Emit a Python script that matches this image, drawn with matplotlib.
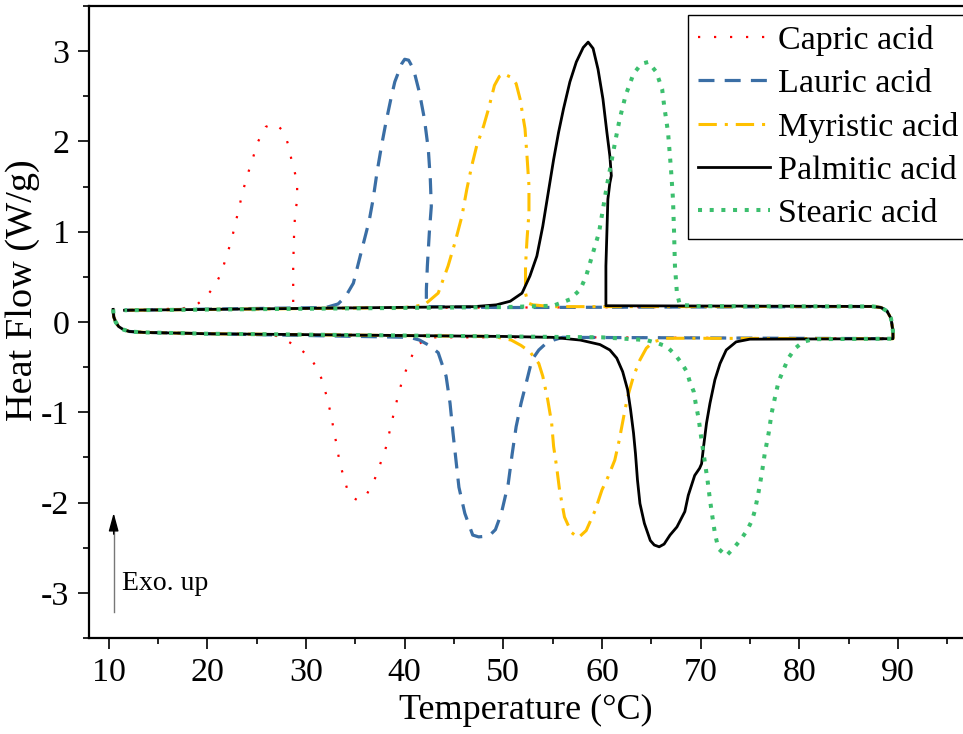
import matplotlib
matplotlib.use("Agg")
import matplotlib.pyplot as plt
from matplotlib.ticker import MultipleLocator
import numpy as np

plt.rcParams['font.family'] = ['Liberation Serif', 'DejaVu Serif']
plt.rcParams['axes.unicode_minus'] = False
plt.rcParams['mathtext.fontset'] = 'stix'

# ---------------- data ----------------
labels = ["Capric acid", "Lauric acid", "Myristic acid", "Palmitic acid", "Stearic acid"]

# shared loop ends
left_curl_T = [10.45, 10.5, 10.7, 11.0, 11.5, 12.1, 13.5, 20.0]
left_curl_HF = [0.14, 0.06, 0.0, -0.05, -0.085, -0.105, -0.115, -0.13]
right_turn_T = [89.5, 89.5, 89.3, 88.9, 88.3, 87.5]
right_turn_HF = [-0.185, -0.10, 0.04, 0.12, 0.16, 0.172]
cool_end_T = [11.6]
cool_end_HF = [0.13]

# Capric acid
capric_heat_T = [26.5, 27.3, 28.4, 29.4, 30.4, 31.1, 31.7, 32.1, 32.5, 32.8, 33.1, 33.4, 33.8, 34.2, 34.7, 35.3,
                 35.8, 36.2, 36.9, 37.5, 38.1, 38.5, 38.9, 39.3, 39.8, 40.4, 41.0, 41.4, 42.0, 42.6, 60.0]
capric_heat_HF = [-0.145, -0.16, -0.23, -0.30, -0.39, -0.51, -0.66, -0.83, -1.01, -1.19, -1.36, -1.55, -1.71, -1.86,
                  -1.94, -1.98, -1.95, -1.90, -1.76, -1.58, -1.39, -1.20, -1.01, -0.83, -0.63, -0.46, -0.31, -0.25,
                  -0.20, -0.17, -0.17]
capric_cool_T = [50.0, 29.5, 28.7, 28.7, 28.7, 28.8, 28.9, 29.1, 29.1, 28.9, 28.5, 28.2, 27.8, 27.0, 26.5, 25.9,
                 25.1, 24.6, 24.1, 23.6, 23.2, 22.8, 22.4, 21.4, 20.75, 19.8, 18.9, 17.5]
capric_cool_HF = [0.16, 0.155, 0.16, 0.25, 0.63, 1.01, 1.20, 1.35, 1.53, 1.64, 1.81, 1.96, 2.10, 2.19, 2.19, 2.16,
                  1.99, 1.81, 1.64, 1.45, 1.26, 1.07, 0.89, 0.54, 0.40, 0.27, 0.19, 0.15]

# Lauric acid
lauric_heat_T = [40.5, 41.5, 42.5, 43.4, 44.2, 44.6, 44.9, 45.2, 45.5, 46.1, 46.9, 47.5, 48.55, 49.2, 49.8, 50.5,
                 50.9, 51.3, 51.8, 52.4, 52.9, 53.6, 54.3, 55.1, 56.0]
lauric_heat_HF = [-0.17, -0.20, -0.26, -0.34, -0.60, -0.90, -1.23, -1.53, -1.83, -2.12, -2.36, -2.38, -2.37, -2.30,
                  -2.12, -1.79, -1.46, -1.16, -0.90, -0.64, -0.42, -0.31, -0.24, -0.20, -0.17]
lauric_cool_T = [50.0, 42.2, 42.2, 42.3, 42.5, 42.7, 42.6, 42.4, 42.0, 41.5, 40.9, 40.4, 40.0, 39.7, 39.0, 38.6,
                 38.1, 37.65, 37.2, 36.8, 36.4, 35.7, 34.8, 34.0, 33.25, 32.0]
lauric_cool_HF = [0.16, 0.17, 0.36, 0.62, 0.99, 1.28, 1.58, 1.91, 2.25, 2.54, 2.80, 2.90, 2.91, 2.86, 2.66, 2.47,
                  2.21, 1.95, 1.66, 1.36, 1.12, 0.82, 0.43, 0.28, 0.20, 0.16]

# Myristic acid
myristic_heat_T = [49.0, 50.8, 51.8, 52.7, 53.6, 54.0, 54.5, 54.9, 55.1, 55.4, 55.7, 56.2, 56.9, 57.6, 58.4, 59.3,
                   60.0, 60.6, 61.3, 61.75, 62.2, 62.6, 63.2, 63.85, 64.5, 65.2, 66.5]
myristic_heat_HF = [-0.16, -0.20, -0.26, -0.33, -0.46, -0.60, -0.86, -1.12, -1.38, -1.60, -1.86, -2.16, -2.33,
                    -2.39, -2.31, -2.09, -1.86, -1.72, -1.53, -1.31, -1.05, -0.83, -0.60, -0.42, -0.29, -0.22,
                    -0.18]
myristic_cool_T = [55.0, 53.0, 52.5, 52.25, 52.25, 52.4, 52.6, 52.6, 52.4, 52.2, 51.7, 51.3, 50.8, 50.0, 49.6,
                   49.1, 48.5, 48.0, 47.3, 46.8, 46.3, 45.8, 45.1, 44.4, 43.4, 42.0, 40.0]
myristic_cool_HF = [0.17, 0.19, 0.21, 0.32, 0.62, 0.91, 1.21, 1.51, 1.84, 2.14, 2.47, 2.64, 2.71, 2.75, 2.72,
                    2.62, 2.36, 2.17, 1.95, 1.73, 1.47, 1.17, 0.88, 0.62, 0.32, 0.19, 0.16]

# Palmitic acid
palmitic_heat_T = [50.0, 55.0, 57.8, 59.8, 60.8, 61.5, 62.1, 62.6, 62.9, 63.2, 63.4, 63.6, 63.85, 64.3, 64.9, 65.3,
                   65.8, 66.3, 66.9, 67.6, 68.4, 68.75, 69.4, 69.9, 70.1, 70.3, 70.6, 70.95, 71.45, 71.97, 72.6,
                   73.6, 75.0]
palmitic_heat_HF = [-0.16, -0.17, -0.20, -0.25, -0.31, -0.40, -0.55, -0.75, -0.97, -1.23, -1.46, -1.75, -2.01,
                    -2.23, -2.42, -2.47, -2.49, -2.46, -2.36, -2.27, -2.10, -1.92, -1.70, -1.62, -1.57, -1.38,
                    -1.12, -0.90, -0.64, -0.46, -0.31, -0.22, -0.19]
palmitic_cool_T = [60.4, 60.4, 60.5, 60.6, 60.8, 60.95, 60.8, 60.5, 60.1, 59.6, 59.1, 58.6, 58.1, 57.4, 56.75,
                   56.1, 55.6, 55.1, 54.55, 54.0, 53.4, 52.7, 51.9, 50.7, 49.3, 47.0]
palmitic_cool_HF = [0.18, 0.62, 0.99, 1.36, 1.54, 1.62, 1.84, 2.10, 2.47, 2.80, 3.03, 3.10, 3.04, 2.88, 2.66,
                    2.36, 2.10, 1.80, 1.43, 1.06, 0.73, 0.51, 0.32, 0.23, 0.19, 0.17]

# Stearic acid
stearic_heat_T = [60.0, 64.5, 65.5, 66.55, 67.4, 68.1, 68.6, 68.9, 69.3, 69.5, 69.8, 70.1, 70.4, 70.7, 70.95, 71.2,
                  71.45, 71.8, 72.6, 73.3, 74.0, 74.7, 75.2, 75.5, 75.85, 76.2, 76.5, 76.9, 77.2, 77.55, 77.9,
                  78.4, 78.9, 79.6, 80.4, 81.4]
stearic_heat_HF = [-0.17, -0.20, -0.23, -0.27, -0.36, -0.46, -0.55, -0.66, -0.77, -0.90, -1.07, -1.31, -1.53,
                   -1.75, -1.97, -2.16, -2.34, -2.51, -2.59, -2.51, -2.42, -2.31, -2.20, -2.09, -1.90, -1.68,
                   -1.46, -1.23, -1.01, -0.83, -0.66, -0.53, -0.40, -0.29, -0.22, -0.19]
stearic_cool_T = [70.0, 67.9, 67.6, 67.4, 67.3, 67.2, 67.0, 66.7, 66.3, 66.1, 65.5, 64.7, 64.0, 63.2, 62.4, 61.8,
                  61.4, 60.95, 60.5, 60.1, 59.7, 59.1, 58.4, 57.8, 56.75, 55.05, 50.0]
stearic_cool_HF = [0.175, 0.19, 0.32, 0.62, 1.03, 1.36, 1.69, 2.10, 2.40, 2.58, 2.77, 2.88, 2.86, 2.75, 2.51,
                   2.25, 2.03, 1.77, 1.51, 1.25, 0.99, 0.77, 0.51, 0.36, 0.25, 0.18, 0.165]

heat_T = [capric_heat_T, lauric_heat_T, myristic_heat_T, palmitic_heat_T, stearic_heat_T]
heat_HF = [capric_heat_HF, lauric_heat_HF, myristic_heat_HF, palmitic_heat_HF, stearic_heat_HF]
cool_T = [capric_cool_T, lauric_cool_T, myristic_cool_T, palmitic_cool_T, stearic_cool_T]
cool_HF = [capric_cool_HF, lauric_cool_HF, myristic_cool_HF, palmitic_cool_HF, stearic_cool_HF]

colors = ["#ff0000", "#3a6ea5", "#ffc000", "#000000", "#3cbf6e"]
styles = [dict(lw=1.6, dashes=(1, 6.2), dash_capstyle='butt'),
          dict(lw=2.3, dashes=(5.0, 3.2), dash_capstyle='butt'),
          dict(lw=2.2, dashes=(6.0, 2.6, 1.0, 2.6), dash_capstyle='butt'),
          dict(lw=2.0, ls='-'),
          dict(lw=2.9, dashes=(1.0, 1.9), dash_capstyle='butt')]

fig = plt.figure(figsize=(9.63, 7.34), dpi=100)
ax = fig.add_axes([89 / 963, 96 / 734, 1 - 89 / 963, (638 - 6) / 734])

for i in range(5):
    T = list(left_curl_T) + heat_T[i] + right_turn_T + cool_T[i] + cool_end_T
    H = list(left_curl_HF) + heat_HF[i] + right_turn_HF + cool_HF[i] + cool_end_HF
    ax.plot(T, H, color=colors[i], label=labels[i], **styles[i])

ax.set_xlim(8, 96.6)
ax.set_ylim(-3.5, 3.5)
ax.xaxis.set_major_locator(MultipleLocator(10))
ax.xaxis.set_minor_locator(MultipleLocator(5))
ax.yaxis.set_major_locator(MultipleLocator(1))
ax.yaxis.set_minor_locator(MultipleLocator(0.5))
ax.tick_params(which='major', direction='out', length=8, width=1.2, labelsize=24.5, pad=6,
               top=False, right=False)
ax.tick_params(which='minor', direction='out', length=4.5, width=1.2, top=False, right=False)
for s in ['left', 'bottom', 'top']:
    ax.spines[s].set_linewidth(1.6)
ax.spines['right'].set_visible(False)

ax.set_xlabel("Temperature (°C)", fontsize=26, labelpad=4)
ax.set_ylabel("Heat Flow (W/g)", fontsize=27.5)
ax.yaxis.set_label_coords(-0.056, 0.55)

# Exo. up arrow
ax.plot([10.5, 10.5], [-3.215, -2.3], color='#777777', lw=1.0)
ax.annotate('', xy=(10.5, -2.115), xytext=(10.5, -2.35),
            arrowprops=dict(arrowstyle='-|>,head_length=1.1,head_width=0.3', color='black', lw=1.0,
                            shrinkA=0, shrinkB=0))
ax.text(11.3, -2.97, "Exo. up", fontsize=20, va='baseline', ha='left')

leg = ax.legend(loc='upper left', bbox_to_anchor=(688 / 963, 1 - 15 / 734), bbox_transform=fig.transFigure,
                fontsize=24.5, frameon=True, fancybox=False, framealpha=1, edgecolor='black',
                borderaxespad=0, borderpad=0.3, handlelength=2.1, handletextpad=0.25, labelspacing=0.36)
leg.get_frame().set_linewidth(1.0)

fig.savefig("out.png", dpi=100)
